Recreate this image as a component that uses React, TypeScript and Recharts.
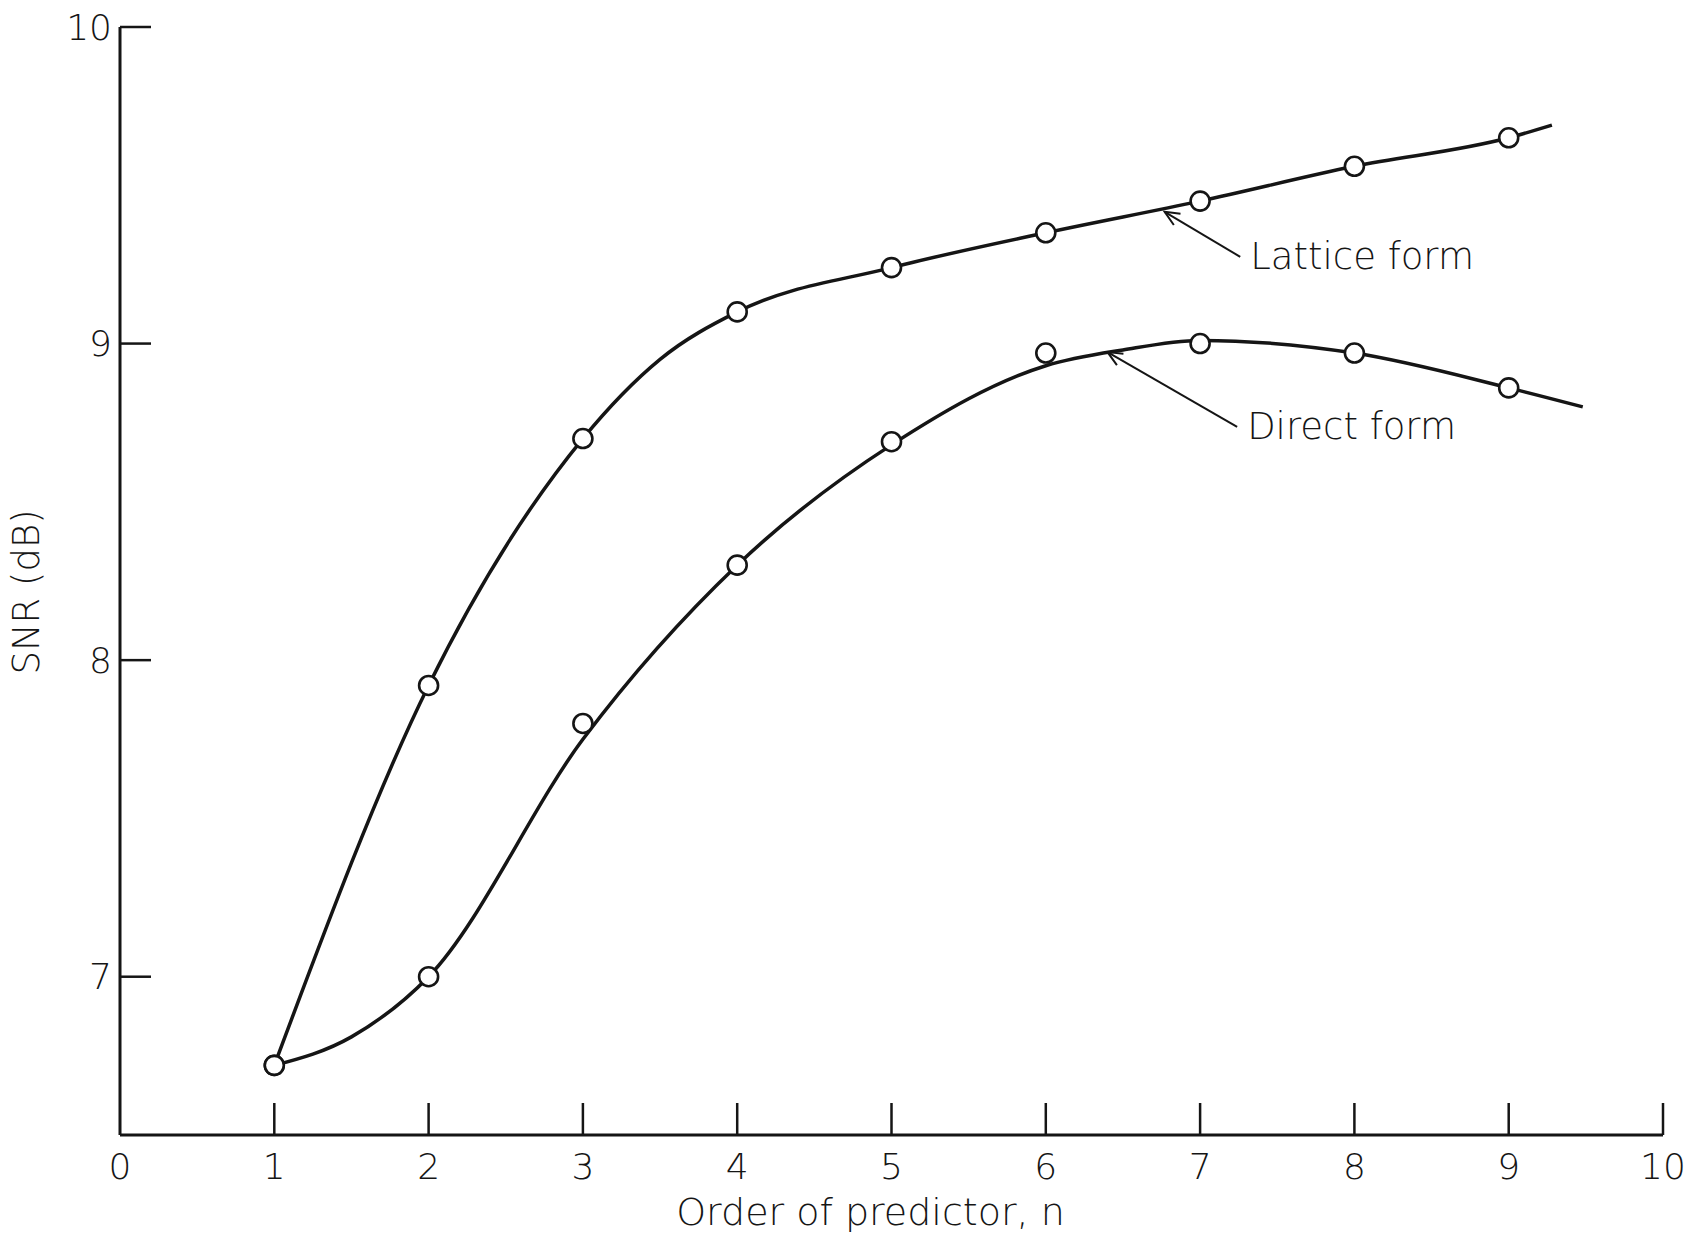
import {
  ComposedChart,
  Line,
  ReferenceLine,
  Scatter,
  XAxis,
  YAxis,
} from "recharts";

const INK = "#151515";
const FONT = "'DejaVu Sans', sans-serif";
const FONT_WEIGHT = 200;

// measured points (order of predictor n = 1..9)
const ORDERS = [1, 2, 3, 4, 5, 6, 7, 8, 9];
const LATTICE_SNR = [6.72, 7.92, 8.7, 9.1, 9.24, 9.35, 9.45, 9.56, 9.65];
const DIRECT_SNR = [6.72, 7.0, 7.8, 8.3, 8.69, 8.97, 9.0, 8.97, 8.86];

// hand-faired curves through the points
const LATTICE_CURVE_N = [1, 2, 3, 3.5, 4, 5, 6, 7, 8, 9, 9.28];
const LATTICE_CURVE_SNR = [6.72, 7.92, 8.7, 8.95, 9.1, 9.24, 9.35, 9.45, 9.56, 9.65, 9.69];
const DIRECT_CURVE_N = [1, 1.5, 2, 3, 4, 5, 6, 6.5, 7, 8, 9, 9.48];
const DIRECT_CURVE_SNR = [6.72, 6.81, 7.0, 7.75, 8.3, 8.68, 8.93, 8.98, 9.01, 8.97, 8.86, 8.8];

const X_TICKS = [0, 1, 2, 3, 4, 5, 6, 7, 8, 9, 10];
const Y_TICKS = [7, 8, 9, 10];

// leader arrows: tip on the curve, tail at the caption
const LATTICE_ARROW = { tip: { n: 6.77, snr: 9.416 }, tail: { n: 7.26, snr: 9.274 }, text: "Lattice form" };
const DIRECT_ARROW = { tip: { n: 6.4, snr: 8.973 }, tail: { n: 7.24, snr: 8.737 }, text: "Direct form" };

const zip = (ns: number[], vals: number[]) => ns.map((n, i) => ({ n, snr: vals[i] }));

const latticePoints = zip(ORDERS, LATTICE_SNR);
const directPoints = zip(ORDERS, DIRECT_SNR);
const latticeCurve = zip(LATTICE_CURVE_N, LATTICE_CURVE_SNR);
const directCurve = zip(DIRECT_CURVE_N, DIRECT_CURVE_SNR);

function OpenCircle(props: any) {
  const { cx, cy } = props;
  return <circle cx={cx} cy={cy} r={9.5} fill="#fff" stroke={INK} strokeWidth={2.6} />;
}

function XTick(props: any) {
  const { x, y, payload } = props;
  return (
    <g>
      {payload.value !== 0 && (
        <line x1={x} y1={y} x2={x} y2={y - 32} stroke={INK} strokeWidth={2.5} />
      )}
      <text
        x={x}
        y={y + 31}
        textAnchor="middle"
        dominantBaseline="central"
        fontFamily={FONT}
        fontWeight={FONT_WEIGHT}
        fontSize={36}
        fill={INK}
      >
        {payload.value}
      </text>
    </g>
  );
}

function YTick(props: any) {
  const { x, y, payload } = props;
  return (
    <g>
      <line x1={x} y1={y} x2={x + 31} y2={y} stroke={INK} strokeWidth={2.5} />
      <text
        x={x - 8}
        y={y}
        textAnchor="end"
        dominantBaseline="central"
        fontFamily={FONT}
        fontWeight={FONT_WEIGHT}
        fontSize={36}
        fill={INK}
      >
        {payload.value}
      </text>
    </g>
  );
}

function makeArrow(caption: string) {
  return function ArrowShape(props: any) {
    const { x1, y1, x2, y2 } = props;
    const ang = Math.atan2(y2 - y1, x2 - x1);
    const head = 16;
    const spread = 0.42;
    const hx1 = x1 + head * Math.cos(ang - spread);
    const hy1 = y1 + head * Math.sin(ang - spread);
    const hx2 = x1 + head * Math.cos(ang + spread);
    const hy2 = y1 + head * Math.sin(ang + spread);
    return (
      <g>
        <line x1={x1} y1={y1} x2={x2} y2={y2} stroke={INK} strokeWidth={2} />
        <polyline
          points={`${hx1},${hy1} ${x1},${y1} ${hx2},${hy2}`}
          fill="none"
          stroke={INK}
          strokeWidth={2}
        />
        <text
          x={x2 + 10}
          y={y2}
          dominantBaseline="central"
          fontFamily={FONT}
          fontWeight={FONT_WEIGHT}
          fontSize={37}
          fill={INK}
        >
          {caption}
        </text>
      </g>
    );
  };
}

export default function App() {
  return (
    <div style={{ position: "absolute", left: 0, top: 0, width: 1703, height: 1239, background: "#fff" }}>
      <ComposedChart
        width={1703}
        height={1239}
        margin={{ top: 27, right: 40, left: 0, bottom: 0 }}
      >
        <XAxis
          dataKey="n"
          type="number"
          domain={[0, 10]}
          ticks={X_TICKS}
          height={104}
          tickSize={0}
          tickMargin={0}
          tickLine={false}
          tick={<XTick />}
          axisLine={{ stroke: INK, strokeWidth: 3 }}
          label={{
            content: ({ viewBox }: any) => (
              <text
                x={viewBox.x + viewBox.width / 2 - 21}
                y={viewBox.y + 77}
                textAnchor="middle"
                dominantBaseline="central"
                fontFamily={FONT}
                fontWeight={FONT_WEIGHT}
                fontSize={38}
                fill={INK}
              >
                Order of predictor, n
              </text>
            ),
          }}
        />
        <YAxis
          dataKey="snr"
          type="number"
          domain={[6.5, 10]}
          ticks={Y_TICKS}
          width={120}
          tickSize={0}
          tickMargin={0}
          tickLine={false}
          tick={<YTick />}
          axisLine={{ stroke: INK, strokeWidth: 3 }}
          label={{
            content: ({ viewBox }: any) => {
              const cx = viewBox.x + 26;
              const cy = viewBox.y + viewBox.height / 2 + 11;
              return (
                <text
                  x={cx}
                  y={cy}
                  transform={`rotate(-90, ${cx}, ${cy})`}
                  textAnchor="middle"
                  dominantBaseline="central"
                  fontFamily={FONT}
                  fontWeight={FONT_WEIGHT}
                  fontSize={37}
                  fill={INK}
                >
                  SNR (dB)
                </text>
              );
            },
          }}
        />

        <Line
          data={latticeCurve}
          dataKey="snr"
          type="monotone"
          stroke={INK}
          strokeWidth={3.5}
          dot={false}
          activeDot={false}
          isAnimationActive={false}
        />
        <Line
          data={directCurve}
          dataKey="snr"
          type="monotone"
          stroke={INK}
          strokeWidth={3.5}
          dot={false}
          activeDot={false}
          isAnimationActive={false}
        />
        <Scatter data={latticePoints} dataKey="snr" shape={<OpenCircle />} isAnimationActive={false} />
        <Scatter data={directPoints} dataKey="snr" shape={<OpenCircle />} isAnimationActive={false} />

        {[LATTICE_ARROW, DIRECT_ARROW].map((a) => (
          <ReferenceLine
            key={a.text}
            segment={[
              { x: a.tip.n, y: a.tip.snr },
              { x: a.tail.n, y: a.tail.snr },
            ]}
            shape={makeArrow(a.text)}
          />
        ))}
      </ComposedChart>
    </div>
  );
}
